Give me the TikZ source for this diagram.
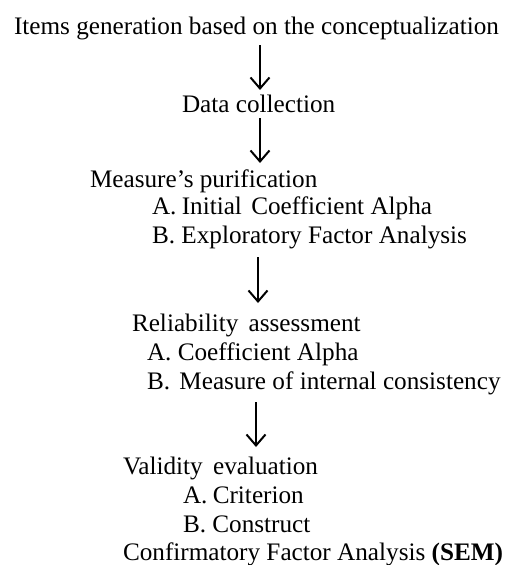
\documentclass[tikz,border=0pt]{standalone}
\usepackage{fontspec}
\setmainfont{Liberation Serif}
\usetikzlibrary{arrows.meta}
\tikzset{
  txt/.style={anchor=base west, inner sep=0pt, outer sep=0pt, font=\fontsize{25.2}{29}\selectfont},
  arr/.style={line width=2pt, -{Straight Barb[length=11pt,width=19pt,line width=2pt]}}
}
\begin{document}
\begin{tikzpicture}[x=1pt,y=-1pt]
\useasboundingbox (0,0) rectangle (505,565);
\node[txt] (t1) at (14,34) {Items generation based on the conceptualization};
\node[txt] (t2) at (182,112) {Data collection};
\node[txt] (t3) at (90,187) {Measure’s purification};
\node[txt] (t3a) at (152,214) {A.\kern-1pt\ Initial\kern3pt\ Coefficient Alpha};
\node[txt] (t3b) at (152,243) {B. Exploratory Factor Analysis};
\node[txt] (t4) at (132,331) {Reliability\kern4pt\ assessment};
\node[txt] (t4a) at (147,360) {A. Coefficient Alpha};
\node[txt] (t4b) at (147,389) {B.\kern3pt\ Measure of internal consistency};
\node[txt] (t5) at (123,474) {Validity\kern4pt\ evaluation};
\node[txt] (t5a) at (183,503) {A.\kern-1pt\ Criterion};
\node[txt] (t5b) at (183,532) {B. Construct};
\node[txt] (t5c) at (123,560) {Confirmatory Factor Analysis \textbf{(SEM)}};
\coordinate (a1s) at (260,45);  \coordinate (a1e) at (260,90);
\coordinate (a2s) at (260,118); \coordinate (a2e) at (260,163);
\coordinate (a3s) at (258,257); \coordinate (a3e) at (258,303);
\coordinate (a4s) at (256,402); \coordinate (a4e) at (256,447);
\draw[arr] (a1s) -- (a1e);
\draw[arr] (a2s) -- (a2e);
\draw[arr] (a3s) -- (a3e);
\draw[arr] (a4s) -- (a4e);
\end{tikzpicture}
\end{document}
